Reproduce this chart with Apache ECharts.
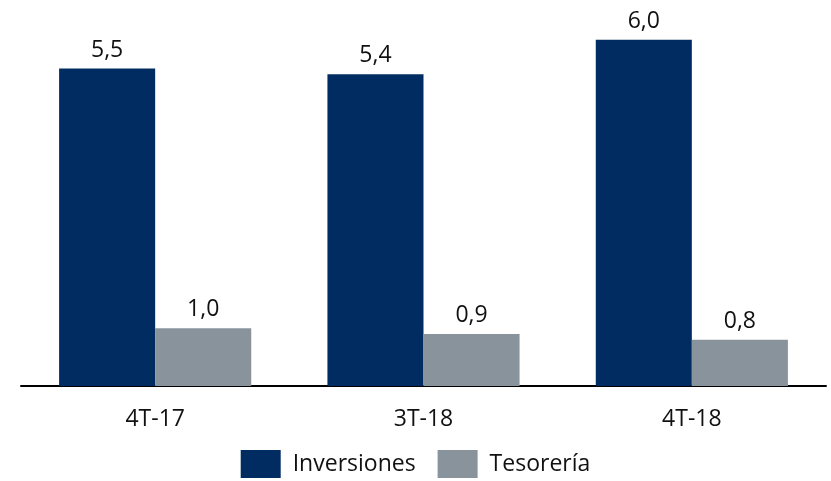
<!DOCTYPE html>
<html><head><meta charset="utf-8">
<script src="https://cdn.jsdelivr.net/npm/echarts@6/dist/echarts.min.js"></script>
<style>html,body{margin:0;padding:0;background:#fff}#c{width:831px;height:481px}</style>
</head><body><div id="c"></div>
<script>
const categories = ['4T-17', '3T-18', '4T-18'];
const inversiones = [5.5, 5.4, 6.0];
const tesoreria = [1.0, 0.9, 0.8];
const seriesNames = ['Inversiones', 'Tesorería'];

const FONT = '"Open Sans", "Noto Sans", sans-serif';
const FS = 23;
const fmt = p => p.value.toFixed(1).replace('.', ',');
const chart = echarts.init(document.getElementById('c'), null, {renderer: 'canvas'});
chart.setOption({
  animation: false,
  textStyle: {fontFamily: FONT},
  grid: {left: 21, right: 5, top: 5, bottom: 95},
  legend: {
    bottom: 3, left: 'center', padding: 0, itemWidth: 40, itemHeight: 28, itemGap: 22,
    icon: 'rect',
    textStyle: {fontSize: FS, color: '#111', fontFamily: FONT, padding: [0, 0, 0, 7]},
    data: seriesNames
  },
  xAxis: {
    type: 'category', data: categories,
    axisLine: {lineStyle: {color: '#000', width: 2}},
    axisTick: {show: false},
    axisLabel: {fontSize: FS, color: '#111', margin: 22, fontFamily: FONT}
  },
  yAxis: {type: 'value', min: 0, max: 6.6, show: false, splitLine: {show: false}},
  series: [
    {name: seriesNames[0], type: 'bar', data: inversiones, barGap: '0%', barCategoryGap: '28.4%',
     itemStyle: {color: '#002C62'},
     label: {show: true, position: 'top', distance: 7, fontSize: FS, color: '#111', fontFamily: FONT, formatter: fmt}},
    {name: seriesNames[1], type: 'bar', data: tesoreria, barGap: '0%', barCategoryGap: '28.4%',
     itemStyle: {color: '#88939C'},
     label: {show: true, position: 'top', distance: 7, fontSize: FS, color: '#111', fontFamily: FONT, formatter: fmt}}
  ]
});
</script></body></html>
